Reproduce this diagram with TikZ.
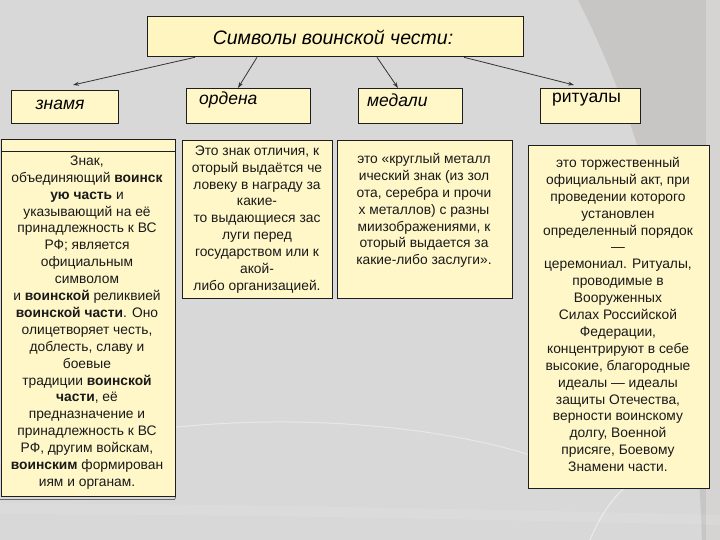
\documentclass[tikz,border=0pt]{standalone}
\usepackage{fontspec}
\setmainfont{Liberation Sans}
\usetikzlibrary{arrows.meta}
\definecolor{bgmain}{RGB}{216,216,216}
\definecolor{bgdark}{RGB}{199,198,196}
\definecolor{boxfill}{RGB}{255,247,200}
\definecolor{titlefill}{RGB}{255,245,192}
\definecolor{edge}{RGB}{30,30,30}
\tikzset{
  box/.style={draw=edge, line width=1.3pt, fill=boxfill, anchor=north west, inner sep=0pt},
  body/.style={font=\fontsize{13.8}{16.9}\selectfont, align=center, inner sep=0pt, text=black!90},
  head/.style={font=\fontsize{17.5}{20}\selectfont\itshape, inner sep=0pt},
  arr/.style={draw=black!80, line width=0.8pt, -{Stealth[length=6pt,width=4pt]}}
}
\begin{document}
\begin{tikzpicture}[x=1pt,y=-1pt]
\useasboundingbox (0,0) rectangle (720,540);
% background
\fill[bgmain] (0,0) rectangle (720,540);
\fill[bgdark] (578,0) .. controls (645,130) and (695,320) .. (702,540) -- (720,540) -- (720,0) -- cycle;
\fill[white,opacity=0.25] (706,0) rectangle (720,540);
\draw[white,opacity=0.4,line width=1pt] (0,462) .. controls (200,400) and (420,420) .. (530,455);
\draw[white,opacity=0.5,line width=1pt] (590,540) .. controls (600,515) and (615,495) .. (628,485);
\fill[white,opacity=0.1] (0,503) .. controls (300,505) and (500,510) .. (720,515) -- (720,525) .. controls (500,520) and (300,515) .. (0,514) -- cycle;
% title
\node[box, fill=titlefill, minimum width=376pt, minimum height=40pt] (title) at (147,16) {};
\node[head, font=\fontsize{19.5}{22}\selectfont\itshape] (ttxt) at (333,37) {Символы воинской чести:};
% headers
\node[box, minimum width=107pt, minimum height=33pt] (zn) at (11,90) {};
\node[head] (zntxt) at (60,105) {знамя};
\node[box, minimum width=124pt, minimum height=35pt] (ord) at (186,88) {};
\node[head, anchor=west] (ordtxt) at (199,100) {ордена};
\node[box, minimum width=104pt, minimum height=35pt] (med) at (358,88) {};
\node[head, anchor=west] (medtxt) at (367,100) {медали};
\node[box, minimum width=100pt, minimum height=35pt] (rit) at (540,88) {};
\node[head, font=\fontsize{17.5}{20}\selectfont, anchor=west] (rittxt) at (552,100) {ритуалы};
% arrows
\draw[arr] ([xshift=48pt]title.south west) -- ([xshift=62pt,yshift=5pt]zn.north west);
\draw[arr] ([xshift=110pt]title.south west) -- ([xshift=52pt]ord.north west);
\draw[arr] ([xshift=230pt]title.south west) -- ([xshift=40pt]med.north west);
\draw[arr] ([xshift=317pt]title.south west) -- ([xshift=34pt,yshift=3pt]rit.north west);
% content boxes
\node[box, line width=1pt, minimum width=174pt, minimum height=357pt] (lbox) at (0.5,139) {};
\draw[edge, line width=1pt] (lbox.west |- 0,152) coordinate (lh1) -- (lbox.east |- 0,152) coordinate (lh2);
\draw[black!60, line width=0.8pt] (0,499) coordinate (lb1) -- (175,499) coordinate (lb2);
\draw[black!60, line width=0.8pt] (lbox.south east) -- (lb2);
\node[body] (ltxt) at (87,322.5) {Знак,\\объединяющий \textbf{воинск}\\\textbf{ую часть} и\\указывающий на её\\принадлежность к ВС\\РФ; является\\официальным\\символом\\и \textbf{воинской} реликвией\\\textbf{воинской части}. Оно\\олицетворяет честь,\\доблесть, славу и\\боевые\\традиции \textbf{воинской}\\\textbf{части}, её\\предназначение и\\принадлежность к ВС\\РФ, другим войскам,\\\textbf{воинским} формирован\\иям и органам.};
\node[box, minimum width=150pt, minimum height=158pt] (obox) at (182,140) {};
\node[body] (otxt) at (257,219.5) {Это знак отличия, к\\оторый выдаётся че\\ловеку в награду за\\какие-\\то выдающиеся зас\\луги перед\\государством или к\\акой-\\либо организацией.};
\node[box, minimum width=175pt, minimum height=158pt] (mbox) at (337,140) {};
\node[body] (mtxt) at (424,210.5) {это «круглый металл\\ический знак (из зол\\ота, серебра и прочи\\х металлов) с разны\\миизображениями, к\\оторый выдается за\\какие-либо заслуги».};
\node[box, minimum width=181pt, minimum height=343pt] (rbox) at (528,145) {};
\node[body] (rtxt) at (618,314.5) {это торжественный\\официальный акт, при\\проведении которого\\установлен\\определенный порядок\\—\\церемониал. Ритуалы,\\проводимые в\\Вооруженных\\Силах Российской\\Федерации,\\концентрируют в себе\\высокие, благородные\\идеалы — идеалы\\защиты Отечества,\\верности воинскому\\долгу, Военной\\присяге, Боевому\\Знамени части.};
\end{tikzpicture}
\end{document}
